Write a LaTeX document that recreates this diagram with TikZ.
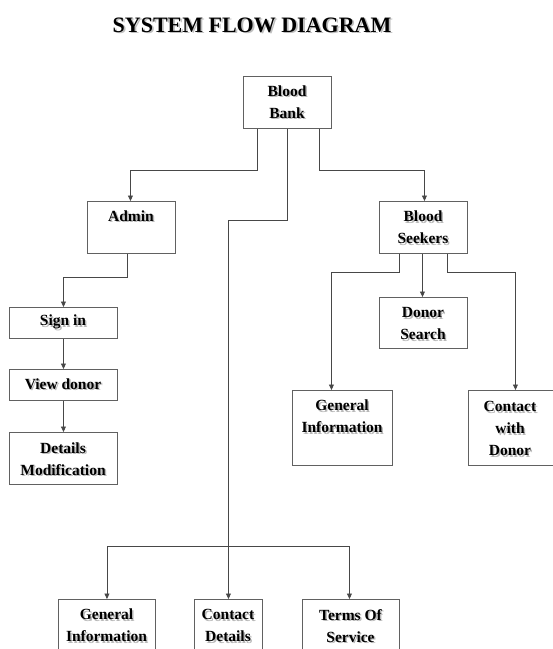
\documentclass[tikz,border=0pt]{standalone}
\usepackage{fontspec}
\setmainfont{Liberation Serif}
\usetikzlibrary{arrows.meta,calc}

\tikzset{
  box/.style={draw=black!62, line width=0.9pt, inner sep=0pt, anchor=north west},
  txt/.style={font=\bfseries\fontsize{15.5}{22}\selectfont, align=center, inner sep=0pt, text=black},
  shd/.style={font=\bfseries\fontsize{15.5}{22}\selectfont, align=center, inner sep=0pt, text=black!28},
  link/.style={draw=black!72, line width=0.9pt},
  arr/.style={link, -{Triangle[length=5.5pt,width=5pt]}},
}

% a bold label with a soft grey drop shadow
\newcommand\shlabel[3]{%
  \node[shd] (#1-sh) at ($(#2)+(1.5,1.5)$) {#3};
  \node[txt] (#1) at (#2) {#3};}

\begin{document}
\begin{tikzpicture}[x=1pt,y=-1pt]
\useasboundingbox (0,0) rectangle (553,649);
\clip (0,0) rectangle (553,649);

% title
\node[font=\bfseries\fontsize{22}{26}\selectfont, inner sep=0pt, text=black!25] (title-sh) at (253.8,26.8) {SYSTEM FLOW DIAGRAM};
\node[font=\bfseries\fontsize{22}{26}\selectfont, inner sep=0pt] (title) at (252,25) {SYSTEM FLOW DIAGRAM};

% boxes
\node[box, minimum width=88pt, minimum height=52pt] (bb)   at (243,76)  {};
\node[box, minimum width=88pt, minimum height=52pt] (adm)  at (87,201)  {};
\node[box, minimum width=88pt, minimum height=52pt] (bs)   at (379,201) {};
\node[box, minimum width=108pt, minimum height=31pt] (sign) at (9,307)  {};
\node[box, minimum width=108pt, minimum height=31pt] (view) at (9,369)  {};
\node[box, minimum width=108pt, minimum height=52pt] (mod)  at (9,432)  {};
\node[box, minimum width=88pt, minimum height=51pt] (ds)   at (379,297) {};
\node[box, minimum width=100pt, minimum height=75pt] (gia)  at (292,390) {};
\node[box, minimum width=100pt, minimum height=75pt] (cwd)  at (468,390) {};
\node[box, minimum width=97pt, minimum height=70pt] (gib)  at (58,599)  {};
\node[box, minimum width=68pt, minimum height=70pt] (cd)   at (194,599) {};
\node[box, minimum width=97pt, minimum height=70pt] (tos)  at (302,599) {};

% labels
\shlabel{bbt}{287,102}{Blood\\Bank}
\shlabel{admt}{131,216}{Admin}
\shlabel{bst}{423,227.5}{Blood\\Seekers}
\shlabel{signt}{63,322}{Sign in}
\shlabel{viewt}{63,384}{View donor}
\shlabel{modt}{63,459}{Details\\Modification}
\shlabel{dst}{423,323.5}{Donor\\Search}
\shlabel{giat}{342,416.5}{General\\Information}
\shlabel{cwdt}{510,428.5}{Contact\\with\\Donor}
\shlabel{gibt}{106.5,625.5}{General\\Information}
\shlabel{cdt}{228,625.5}{Contact\\Details}
\shlabel{tost}{350.5,626}{Terms Of\\Service}

% Blood Bank branches
\draw[arr] ([xshift=-30pt]bb.south) -- ([xshift=-30pt]bb.south |- 0,170) -| ([xshift=-1pt]adm.north);
\draw[arr] ([xshift=32pt]bb.south) -- ([xshift=32pt]bb.south |- 0,170) -| ([xshift=1pt]bs.north);
\draw[arr] (bb.south) -- (bb.south |- 0,220) -| (cd.north);

% bottom row fan-out
\coordinate (fan) at (cd.north |- 0,546);
\draw[arr] (fan) -| (gib.north);
\draw[arr] (fan) -| ([xshift=-1.5pt]tos.north);

% admin chain
\draw[arr] ([xshift=-4pt]adm.south) -- ([xshift=-4pt]adm.south |- 0,277) -| (sign.north);
\draw[arr] (sign.south) -- (view.north);
\draw[arr] (view.south) -- (mod.north);

% blood seekers branches
\draw[arr] ([xshift=-24pt]bs.south) -- ([xshift=-24pt]bs.south |- 0,272) -| ([xshift=-11pt]gia.north);
\draw[arr] ([xshift=-1pt]bs.south) -- ([xshift=-1pt]ds.north);
\draw[arr] ([xshift=24pt]bs.south) -- ([xshift=24pt]bs.south |- 0,272) -| ([xshift=-3pt]cwd.north);
\end{tikzpicture}
\end{document}
